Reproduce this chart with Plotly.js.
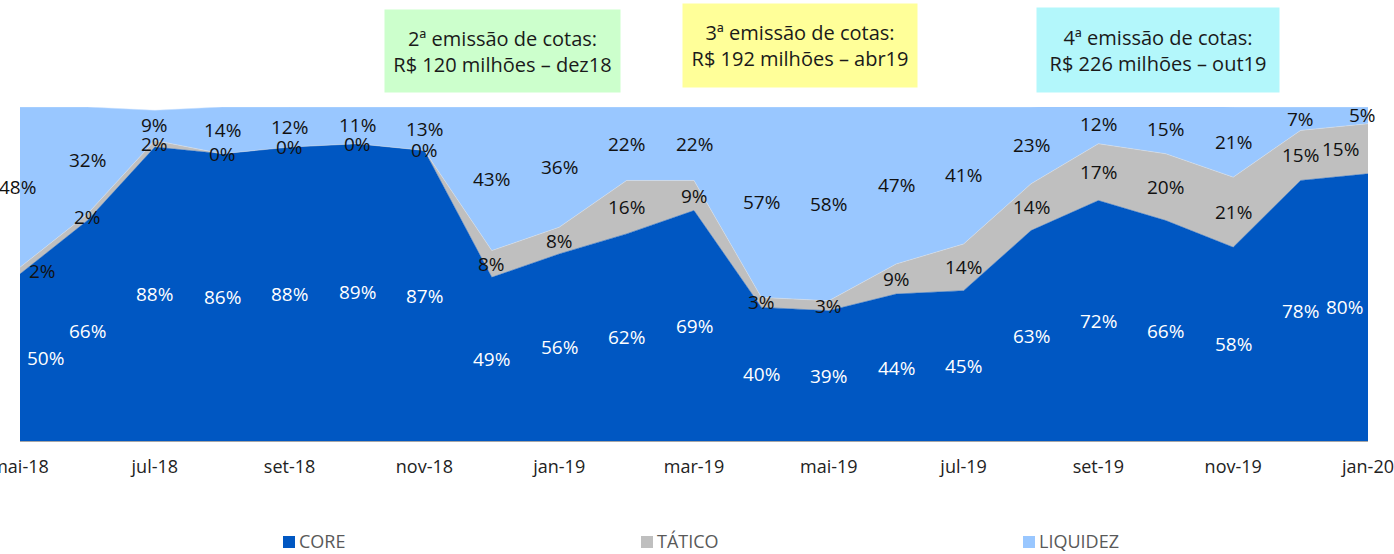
<!DOCTYPE html>
<html><head><meta charset="utf-8">
<script src="https://cdn.plot.ly/plotly-3.0.1.min.js"></script>
<style>html,body{margin:0;padding:0;background:#fff}#chart{width:1394px;height:554px}</style>
</head><body><div id="chart"></div>
<script>
const months = ["mai-18","jun-18","jul-18","ago-18","set-18","out-18","nov-18","dez-18","jan-19","fev-19","mar-19","abr-19","mai-19","jun-19","jul-19","ago-19","set-19","out-19","nov-19","dez-19","jan-20"];
const core    = [50,66,88,86,88,89,87,49,56,62,69,40,39,44,45,63,72,66,58,78,80];
const tatico  = [2,2,2,0,0,0,0,8,8,16,9,3,3,9,14,14,17,20,21,15,15];
const liquidez= [48,32,9,14,12,11,13,43,36,22,22,57,58,47,41,23,12,15,21,7,5];
const tickLabels = ["mai-18","jul-18","set-18","nov-18","jan-19","mar-19","mai-19","jul-19","set-19","nov-19","jan-20"];
const seriesNames = ["CORE","TÁTICO","LIQUIDEZ"];
const emissions = [
  {text:"2ª emissão de cotas:<br>R$ 120 milhões – dez18", color:"#ccffcc"},
  {text:"3ª emissão de cotas:<br>R$ 192 milhões – abr19", color:"#ffff99"},
  {text:"4ª emissão de cotas:<br>R$ 226 milhões – out19", color:"#b3f7fb"}
];
const colors = ["#0057c2","#bfbfbf","#99c7ff"];

const idx = months.map((_, i) => i);
const FONT = "Open Sans, Noto Sans, sans-serif";
const W = 1394, H = 554;
const L = 20, R = 1368, T = 107, B = 441;
const px2x = p => (p - L) / (R - L);
const px2y = p => (B - p) / (B - T);

const traces = [
  {x: idx, y: core, name:seriesNames[0], type:"scatter", mode:"lines", stackgroup:"one", fillcolor:colors[0], line:{width:0.5,color:colors[0]}, showlegend:false, hoverinfo:"skip"},
  {x: idx, y: tatico, name:seriesNames[1], type:"scatter", mode:"lines", stackgroup:"one", fillcolor:colors[1], line:{width:0.5,color:"#e0e0e0"}, showlegend:false, hoverinfo:"skip"},
  {x: idx, y: liquidez, name:seriesNames[2], type:"scatter", mode:"lines", stackgroup:"one", fillcolor:colors[2], line:{width:0.5,color:"#c8e0ff"}, showlegend:false, hoverinfo:"skip"}
];

const annotations = [];
const shapes = [];
const n = months.length;
function edgeShift(i, first, last){ return i === 0 ? first : (i === n-1 ? last : 0); }
for (let i = 0; i < n; i++) {
  const c = core[i], t = tatico[i], l = liquidez[i];
  annotations.push({x:i, y:c/2, text:c+"%", showarrow:false, font:{family:FONT,size:19,color:"#ffffff"}, xshift:edgeShift(i,25,-24)});
  annotations.push({x:i, y:c + t/2, text:t+"%", showarrow:false, font:{family:FONT,size:19,color:"#111111"}, xshift:edgeShift(i,22,-28)});
  annotations.push({x:i, y:c + t + l/2, text:l+"%", showarrow:false, font:{family:FONT,size:19,color:"#111111"}, xshift:edgeShift(i,-3,-6)});
}
// emission boxes
const boxes = [[502,51],[800,46],[1158,50]];
const boxW = [235,234,242], boxH = [82,83,84];
emissions.forEach((e, k) => {
  annotations.push({xref:"paper", yref:"paper", x:px2x(boxes[k][0]), y:px2y(boxes[k][1]),
    xanchor:"center", yanchor:"middle", text:e.text, showarrow:false, bgcolor:e.color,
    width:boxW[k]-4, height:boxH[k]-4, borderpad:2, align:"center",
    font:{family:FONT,size:20,color:"#1a1a1a"}});
});
// manual legend
const legX = [283, 641, 1023], legY = 541, sq = 12;
seriesNames.forEach((nm, k) => {
  shapes.push({type:"rect", xref:"paper", yref:"paper", x0:px2x(legX[k]), x1:px2x(legX[k]+sq),
    y0:px2y(legY+sq/2+1), y1:px2y(legY-sq/2+1), fillcolor:colors[k], line:{width:0}});
  annotations.push({xref:"paper", yref:"paper", x:px2x(legX[k]+sq+2), y:px2y(legY), xanchor:"left", yanchor:"middle",
    text:nm, showarrow:false, font:{family:FONT,size:18,color:"#595959"}});
});

const layout = {
  width:W, height:H,
  margin:{l:L, r:W-R, t:T, b:H-B, pad:0},
  paper_bgcolor:"#ffffff", plot_bgcolor:"#ffffff",
  font:{family:FONT, size:18, color:"#222"},
  xaxis:{range:[0,n-1], tickvals:idx.filter(i=>i%2===0), ticktext:tickLabels, showgrid:false, zeroline:false,
         showline:true, linecolor:"#a6a6a6", linewidth:1, ticks:"", tickfont:{family:FONT,size:18,color:"#222"},
         ticklabelstandoff:9, ticklabeloverflow:"allow", automargin:false},
  yaxis:{range:[0,100], visible:false, showgrid:false, zeroline:false, automargin:false},
  showlegend:false,
  shapes: shapes,
  annotations: annotations
};
Plotly.newPlot("chart", traces, layout, {staticPlot:true, displayModeBar:false});
</script></body></html>
